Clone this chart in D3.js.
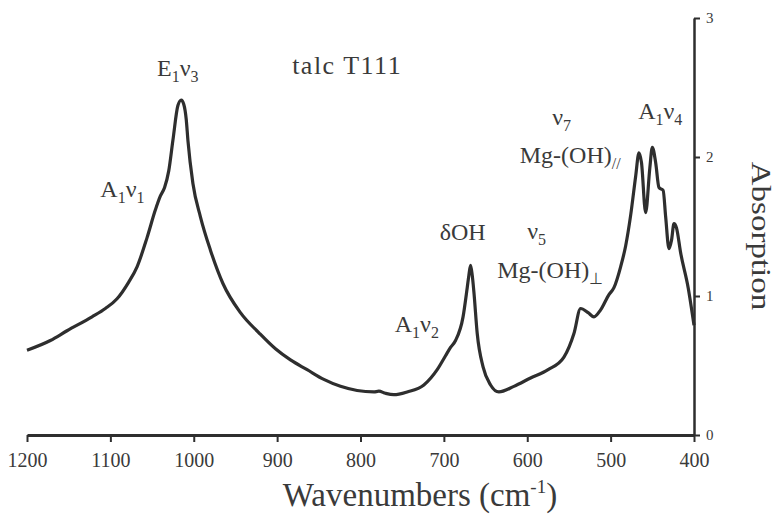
<!DOCTYPE html>
<html>
<head>
<meta charset="utf-8">
<script src="https://cdn.jsdelivr.net/npm/d3@7"></script>
<style>
  body { margin: 0; background: #fff; }
  svg text { font-family: 'Liberation Serif', 'Times New Roman', serif; fill: #3a3a3a; }
</style>
</head>
<body>
<svg id="chart"></svg>
<script>
const w = 776;
const h = 518;

// spectrum: wavenumber (cm-1) and absorption
const wavenumbers = [
  1200, 1172, 1152, 1122, 1106, 1092, 1078, 1068, 1056, 1046, 1040, 1035, 1030, 1025, 1019,
  1015, 1012, 1009, 1007, 1001, 992, 980, 965, 944, 921, 902, 884, 864, 844, 824, 804,
  784, 778, 770, 760, 744, 724, 708, 698, 692, 686, 677, 672, 670, 668, 666, 664, 660,
  653, 644, 634, 616, 596, 575, 556, 544, 536, 527, 520, 512, 502, 496, 488, 482, 476,
  470, 466, 463, 458, 453, 450, 446, 442, 437, 434, 430, 427, 424, 421, 416, 407, 400
];
const absorption = [
  0.61, 0.68, 0.75, 0.85, 0.91, 0.98, 1.10, 1.21, 1.42, 1.62, 1.72, 1.78, 1.90, 2.12, 2.37,
  2.41, 2.38, 2.27, 2.12, 1.81, 1.57, 1.33, 1.09, 0.88, 0.73, 0.62, 0.54, 0.47, 0.40, 0.35, 0.32,
  0.31, 0.315, 0.30, 0.29, 0.31, 0.36, 0.47, 0.57, 0.63, 0.68, 0.85, 1.06, 1.15, 1.22, 1.15, 1.03, 0.73,
  0.49, 0.36, 0.31, 0.35, 0.41, 0.47, 0.56, 0.73, 0.91, 0.88, 0.85, 0.90, 1.01, 1.06, 1.21, 1.36, 1.58,
  1.86, 2.03, 1.96, 1.60, 1.92, 2.07, 1.96, 1.78, 1.76, 1.57, 1.34, 1.40, 1.52, 1.49, 1.31, 1.06, 0.79
];

const xTicks = [1200, 1100, 1000, 900, 800, 700, 600, 500, 400];
const yTicks = [0, 1, 2, 3];

// band labels: pieces ([text, isSubscript]) anchored at (wavenumber, absorption)
const bandLabels = [
  { parts: [['E', 0], ['1', 1], ['ν', 0], ['3', 1]], wn: 1044, ab: 2.58 },
  { parts: [['A', 0], ['1', 1], ['ν', 0], ['1', 1]], wn: 1112, ab: 1.71 },
  { parts: [['A', 0], ['1', 1], ['ν', 0], ['2', 1]], wn: 759, ab: 0.74 },
  { parts: [['δOH', 0]], wn: 705, ab: 1.40 },
  { parts: [['ν', 0], ['5', 1]], wn: 600, ab: 1.41 },
  { parts: [['Mg-(OH)', 0], ['⊥', 1]], wn: 636, ab: 1.13 },
  { parts: [['ν', 0], ['7', 1]], wn: 570, ab: 2.23 },
  { parts: [['Mg-(OH)', 0], ['//', 1]], wn: 609, ab: 1.96 },
  { parts: [['A', 0], ['1', 1], ['ν', 0], ['4', 1]], wn: 467, ab: 2.27 }
];
const sampleName = 'talc T111';
const xTitle = 'Wavenumbers (cm';
const yTitle = 'Absorption';

const svg = d3.select('#chart').attr('width', w).attr('height', h);

const x = d3.scaleLinear().domain([1200, 400]).range([27, 694]);
const y = d3.scaleLinear().domain([0, 3]).range([435, 18]);

////////////////////////
/////// AXES ///////////
////////////////////////

const xAxis = svg
  .append('g')
  .attr('transform', `translate(0,${y(0)})`)
  .call(
    d3.axisBottom(x).tickValues(xTicks).tickSize(7).tickSizeOuter(0).tickPadding(11)
      .tickFormat((d) => d)
  );
xAxis.select('.domain').attr('stroke', '#2e2e2e').attr('stroke-width', 3);
xAxis.selectAll('.tick line').attr('stroke', '#2e2e2e').attr('stroke-width', 2);
xAxis.selectAll('.tick text').style('font-size', '20px').attr('fill', '#3a3a3a');

const yAxis = svg
  .append('g')
  .attr('transform', `translate(${x(400)},0)`)
  .call(
    d3.axisRight(y).tickValues(yTicks).tickSize(6).tickSizeOuter(0).tickPadding(6)
      .tickFormat(d3.format('d'))
  );
yAxis.select('.domain').attr('stroke', '#2e2e2e').attr('stroke-width', 2.5);
yAxis.selectAll('.tick line').attr('stroke', '#2e2e2e').attr('stroke-width', 2);
yAxis.selectAll('.tick text').style('font-size', '15px').attr('fill', '#4a4a4a');

////////////////////////
/////// SPECTRUM ///////
////////////////////////

const points = wavenumbers.map((wn, i) => [wn, absorption[i]]);

svg
  .append('path')
  .datum(points)
  .attr('fill', 'none')
  .attr('stroke', '#2e2e2e')
  .attr('stroke-width', 3.2)
  .attr('stroke-linejoin', 'round')
  .attr('d', d3.line().x((d) => x(d[0])).y((d) => y(d[1])).curve(d3.curveMonotoneX));

////////////////////////
/////// LABELS /////////
////////////////////////

bandLabels.forEach((lab) => {
  const t = svg
    .append('text')
    .attr('x', x(lab.wn))
    .attr('y', y(lab.ab))
    .style('font-size', '24px');
  let shifted = false;
  lab.parts.forEach(([txt, sub]) => {
    const span = t.append('tspan').text(txt);
    if (sub && !shifted) {
      span.attr('dy', 6).style('font-size', '16px');
      shifted = true;
    } else if (sub) {
      span.style('font-size', '16px');
    } else if (shifted) {
      span.attr('dy', -6);
      shifted = false;
    }
  });
});

svg
  .append('text')
  .attr('x', x(882))
  .attr('y', y(2.6))
  .style('font-size', '26px')
  .style('letter-spacing', '1.5px')
  .text(sampleName);

const xt = svg
  .append('text')
  .attr('x', 420)
  .attr('y', 506)
  .attr('text-anchor', 'middle')
  .style('font-size', '33px');
xt.append('tspan').text(xTitle);
xt.append('tspan').attr('dy', -13).style('font-size', '19px').text('-1');
xt.append('tspan').attr('dy', 13).text(')');

svg
  .append('text')
  .attr('transform', 'translate(752,236) rotate(90) scale(1,0.85)')
  .attr('text-anchor', 'middle')
  .style('font-size', '33px')
  .text(yTitle);
</script>
</body>
</html>
